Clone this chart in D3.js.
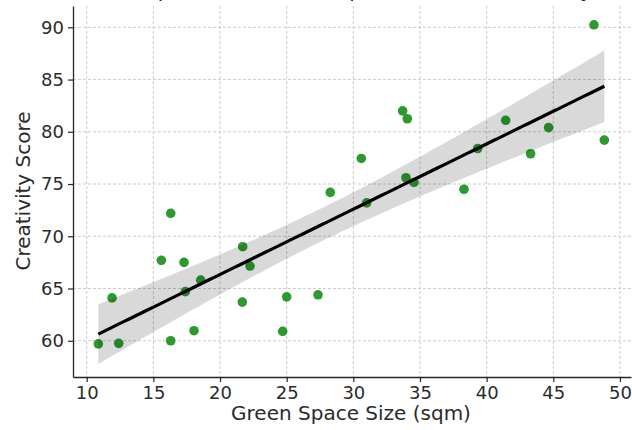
<!DOCTYPE html>
<html>
<head>
<meta charset="utf-8">
<script src="https://cdn.jsdelivr.net/npm/d3@7"></script>
<style>
  html, body { margin: 0; padding: 0; background: #fff; }
  svg { display: block; font-family: "DejaVu Sans", sans-serif; }
</style>
</head>
<body>
<svg id="chart" width="632" height="430"></svg>
<script>
// green space size (sqm) and creativity score for each participant
const greenSpace = [10.87, 12.4, 11.9, 16.3, 15.6, 17.3, 18.55, 17.4, 16.3, 18.05,
                    21.7, 22.25, 21.67, 24.7, 25.0, 27.35, 28.27, 30.6, 31.0, 33.7,
                    34.05, 33.95, 34.55, 38.3, 39.33, 41.43, 43.3, 44.65, 48.05, 48.83];
const creativity = [59.7, 59.75, 64.1, 72.2, 67.7, 67.5, 65.8, 64.7, 60.0, 60.96,
                    69.0, 67.15, 63.7, 60.9, 64.2, 64.4, 74.2, 77.45, 73.2, 82.0,
                    81.25, 75.6, 75.15, 74.5, 78.4, 81.1, 77.9, 80.4, 90.24, 79.2];
const xTicks = [10, 15, 20, 25, 30, 35, 40, 45, 50];
const yTicks = [60, 65, 70, 75, 80, 85, 90];

const svg = d3.select("#chart");
const mLeft = 73, mRight = 631, mTop = 6, mBottom = 377;

const x = d3.scaleLinear().domain([8.97, 50.83]).range([mLeft, mRight]);
const y = d3.scaleLinear().domain([56.53, 92.04]).range([mBottom, mTop]);

// title: cropped in the reference, only its lowest pixels show
svg.append("text")
  .attr("x", 351).attr("y", -3)
  .attr("text-anchor", "middle")
  .attr("font-size", 20)
  .attr("fill", "#262626")
  .text("Relationship between Green Space Size and Creativity Score");

// grid
svg.append("g").selectAll("line").data(xTicks).join("line")
  .attr("x1", d => x(d)).attr("x2", d => x(d))
  .attr("y1", mTop).attr("y2", mBottom)
  .attr("stroke", "#cccccc").attr("stroke-width", 1)
  .attr("stroke-dasharray", "3,2");
svg.append("g").selectAll("line").data(yTicks).join("line")
  .attr("x1", mLeft).attr("x2", mRight)
  .attr("y1", d => y(d)).attr("y2", d => y(d))
  .attr("stroke", "#cccccc").attr("stroke-width", 1)
  .attr("stroke-dasharray", "3,2");

// points
const pts = greenSpace.map((g, i) => ({x: g, y: creativity[i]}));
svg.append("g").selectAll("circle").data(pts).join("circle")
  .attr("cx", d => x(d.x)).attr("cy", d => y(d.y))
  .attr("r", 4.8)
  .attr("fill", "#2e9a2e");

// linear fit + 95% confidence band
const n = pts.length;
const mx = d3.mean(greenSpace), my = d3.mean(creativity);
const sxx = d3.sum(greenSpace, v => (v - mx) ** 2);
const sxy = d3.sum(pts, d => (d.x - mx) * (d.y - my));
const slope = sxy / sxx, icpt = my - slope * mx;
const s = Math.sqrt(d3.sum(pts, d => (d.y - (icpt + slope * d.x)) ** 2) / (n - 2));
const t = 2.048;
const [x0, x1] = d3.extent(greenSpace);
const grid = d3.range(0, 101).map(i => x0 + (x1 - x0) * i / 100);
const band = grid.map(v => {
  const f = icpt + slope * v;
  const h = t * s * Math.sqrt(1 / n + (v - mx) ** 2 / sxx);
  return {x: v, lo: f - h, hi: f + h, f: f};
});

svg.append("path").datum(band)
  .attr("d", d3.area().x(d => x(d.x)).y0(d => y(d.lo)).y1(d => y(d.hi)))
  .attr("fill", "#000").attr("fill-opacity", 0.15);

svg.append("path").datum(band)
  .attr("d", d3.line().x(d => x(d.x)).y(d => y(d.f)))
  .attr("fill", "none").attr("stroke", "#000").attr("stroke-width", 3.2);

// axes
const xAxis = svg.append("g").attr("transform", `translate(0,${mBottom})`)
  .call(d3.axisBottom(x).tickValues(xTicks).tickSize(5).tickSizeOuter(0).tickPadding(4));
const yAxis = svg.append("g").attr("transform", `translate(${mLeft},0)`)
  .call(d3.axisLeft(y).tickValues(yTicks).tickSize(5).tickSizeOuter(0).tickPadding(4));
[xAxis, yAxis].forEach(a => {
  a.select(".domain").attr("stroke", "#262626").attr("stroke-width", 1.3);
  a.selectAll(".tick line").attr("stroke", "#262626").attr("stroke-width", 1.2);
  a.selectAll(".tick text").attr("font-size", 18).attr("fill", "#2b2b2b")
    .attr("font-family", "DejaVu Sans, sans-serif");
});

svg.append("text")
  .attr("x", 351).attr("y", 420)
  .attr("text-anchor", "middle")
  .attr("font-size", 20).attr("fill", "#2b2b2b")
  .text("Green Space Size (sqm)");

svg.append("text")
  .attr("transform", "translate(30,191) rotate(-90)")
  .attr("text-anchor", "middle")
  .attr("font-size", 20).attr("fill", "#2b2b2b")
  .text("Creativity Score");
</script>
</body>
</html>
